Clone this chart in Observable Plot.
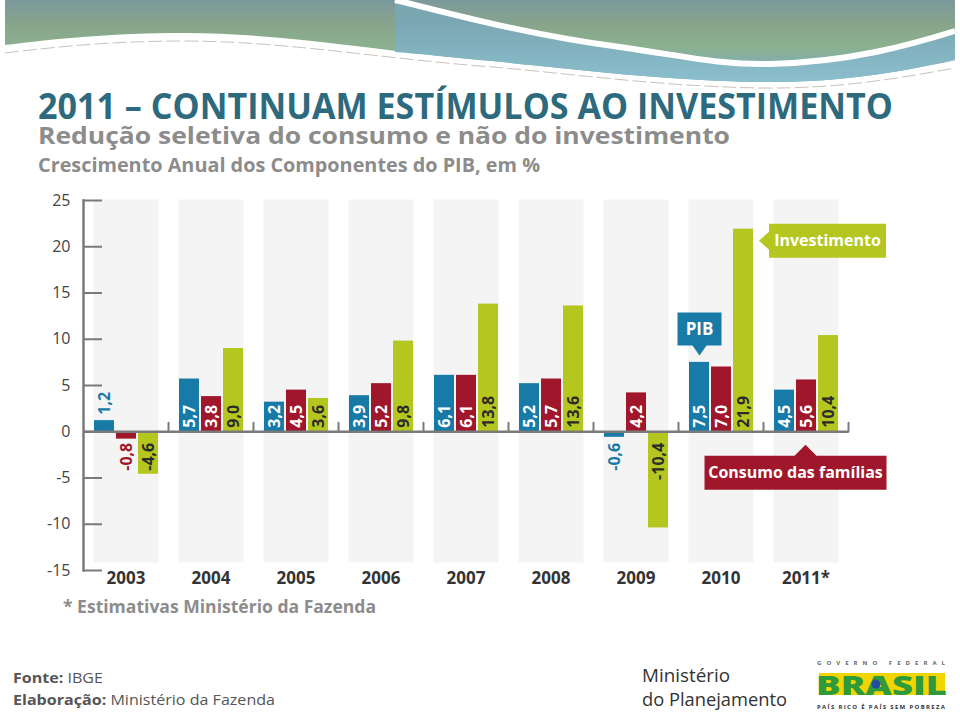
<!DOCTYPE html>
<html><head><meta charset="utf-8">
<script src="https://cdn.jsdelivr.net/npm/d3@7"></script>
<script src="https://cdn.jsdelivr.net/npm/@observablehq/plot@0.6"></script>
<style>
html,body{margin:0;padding:0;background:#fff;}
#page{position:relative;width:960px;height:713px;overflow:hidden;font-family:'Open Sans',sans-serif;}
#bg{position:absolute;left:0;top:0;}
#chart{position:absolute;left:0;top:190px;}
</style></head><body>
<div id="page"><svg id="bg" width="960" height="713" xmlns="http://www.w3.org/2000/svg"></svg><div id="chart"></div></div>
<script>
// ---- data ----
const years = ["2003","2004","2005","2006","2007","2008","2009","2010","2011*"];
const series = ["PIB","Consumo das famílias","Investimento"];
const pib = [1.2, 5.7, 3.2, 3.9, 6.1, 5.2, -0.6, 7.5, 4.5];
const consumo = [-0.8, 3.8, 4.5, 5.2, 6.1, 5.7, 4.2, 7.0, 5.6];
const investimento = [-4.6, 9.0, 3.6, 9.8, 13.8, 13.6, -10.4, 21.9, 10.4];
const yTicks = [-15, -10, -5, 0, 5, 10, 15, 20, 25];
const colors = ["#177aa7", "#a0172b", "#b5c61f"];

const title = "2011 – CONTINUAM ESTÍMULOS AO INVESTIMENTO";
const subtitle = "Redução seletiva do consumo e não do investimento";
const subtitle2 = "Crescimento Anual dos Componentes do PIB, em %";
const note = "* Estimativas Ministério da Fazenda";

const data = years.flatMap((year, i) => [
  {year, series: series[0], value: pib[i]},
  {year, series: series[1], value: consumo[i]},
  {year, series: series[2], value: investimento[i]}
]);
const callouts = [
  {year: years[7], series: series[0], value: pib[7], label: "PIB"},
  {year: years[7], series: series[2], value: investimento[7], label: "Investimento"},
  {year: years[8], series: series[1], value: 0, label: "Consumo das famílias"}
];

const fmt = v => v.toFixed(1).replace(".", ",");

// ---- background: header wave, titles, footer ----
const bg = document.getElementById("bg");
bg.innerHTML = `
<defs>
 <linearGradient id="gMain" x1="0" y1="0" x2="0" y2="85" gradientUnits="userSpaceOnUse">
  <stop offset="0" stop-color="#7b999c"/>
  <stop offset="0.3" stop-color="#88a58b"/>
  <stop offset="0.55" stop-color="#8bb18f"/>
  <stop offset="0.8" stop-color="#80adb6"/>
  <stop offset="1" stop-color="#82b5c4"/>
 </linearGradient>
 <linearGradient id="gBlue" x1="0" y1="20" x2="0" y2="85" gradientUnits="userSpaceOnUse">
  <stop offset="0" stop-color="#7aa6b2"/>
  <stop offset="1" stop-color="#8cc0cf"/>
 </linearGradient>
</defs>
<path d="M5,0 H955 V60 C900,72 840,83 760,82 C650,80 560,67 480,60 C380,51 280,33 185,33 C110,33 55,39 5,45 Z" fill="url(#gMain)"/>
<path d="M395,0 C430,8 520,34 620,47 C690,57 720,65 770,64 C850,62 910,45 955,31 V60 C900,72 840,83 760,82 C650,80 560,67 480,60 C450,57 420,54 395,52 Z" fill="url(#gBlue)"/>
<path d="M395,0 C430,8 520,34 620,47 C690,57 720,65 770,64 C850,62 910,45 955,31" fill="none" stroke="#fff" stroke-width="6"/>
<path d="M5,53 C55,47 110,41 185,41 C280,41 380,58 480,66 C560,72 650,86 760,88 C840,89 900,78 955,68" fill="none" stroke="#b9b4aa" stroke-width="1" stroke-dasharray="14 4" opacity="0.8"/>
<text x="38" y="119" font-size="36" font-weight="700" fill="#2e6a7d" textLength="855" lengthAdjust="spacingAndGlyphs">${title}</text>
<text x="38" y="144" font-size="24" font-weight="700" fill="#8c8c8c" textLength="692" lengthAdjust="spacingAndGlyphs">${subtitle}</text>
<text x="38" y="172" font-size="20" font-weight="700" fill="#8c8c8c" textLength="502" lengthAdjust="spacingAndGlyphs">${subtitle2}</text>
<text x="63" y="613" font-size="18" font-weight="700" fill="#8c8c8c" textLength="313" lengthAdjust="spacingAndGlyphs">${note}</text>
<text x="13" y="683" font-size="15" fill="#555" textLength="90" lengthAdjust="spacingAndGlyphs"><tspan font-weight="700">Fonte:</tspan> IBGE</text>
<text x="13" y="705" font-size="15" fill="#555" textLength="262" lengthAdjust="spacingAndGlyphs"><tspan font-weight="700">Elaboração:</tspan> Ministério da Fazenda</text>
<text x="642" y="682" font-size="18" fill="#333" textLength="88" lengthAdjust="spacingAndGlyphs">Ministério</text>
<text x="642" y="706" font-size="18" fill="#333" textLength="145" lengthAdjust="spacingAndGlyphs">do Planejamento</text>
<text x="817" y="665" font-size="6" font-weight="700" fill="#666" textLength="128" lengthAdjust="spacing">GOVERNO FEDERAL</text>
<rect x="819" y="673" width="126" height="22" fill="#f2d400"/>
<text x="816" y="695" font-size="27" font-weight="800" fill="#2e9a3c" textLength="131" lengthAdjust="spacingAndGlyphs">BRASIL</text>
<circle cx="876" cy="684" r="4.5" fill="#1d4f9c"/>
<text x="817" y="709" font-size="6" font-weight="700" fill="#333" textLength="128" lengthAdjust="spacing">PAÍS RICO É PAÍS SEM POBREZA</text>
`;

// ---- callout shapes (tip at origin) ----
const symLeft = {draw(c) { c.moveTo(0,0); c.lineTo(10,-9); c.lineTo(10,-17); c.lineTo(127,-17); c.lineTo(127,17); c.lineTo(10,17); c.lineTo(10,9); c.closePath(); }};
const symDown = {draw(c) { c.moveTo(0,0); c.lineTo(-7,-10); c.lineTo(-22,-10); c.lineTo(-22,-43); c.lineTo(22,-43); c.lineTo(22,-10); c.lineTo(7,-10); c.closePath(); }};
const symUp = {draw(c) { c.moveTo(0,0); c.lineTo(11,11); c.lineTo(81,11); c.lineTo(81,45); c.lineTo(-101,45); c.lineTo(-101,11); c.lineTo(-11,11); c.closePath(); }};
const tickShape = {draw(c, l) { c.moveTo(0,0); c.lineTo(0,-l); }};

const axisGray = "#7a7a7a";
const dark = "#2b2b2b";
const lab = {fx: "year", x: "series", text: d => fmt(d.value), rotate: -90, fontWeight: "bold", fontSize: 16};

const chart = Plot.plot({
  width: 960, height: 410,
  marginLeft: 81, marginRight: 111, marginTop: 10, marginBottom: 30,
  style: {background: "transparent", fontFamily: "'Open Sans', sans-serif"},
  fx: {domain: years, padding: 0, label: null},
  x: {domain: series, paddingInner: 0.1, paddingOuter: 0, insetLeft: 10, insetRight: 10, axis: null},
  y: {domain: [-15, 25], label: null},
  color: {domain: series, range: colors},
  marks: [
    Plot.frame({fill: "#f4f4f4", stroke: "none", insetLeft: 10, insetRight: 10, insetTop: -1, insetBottom: 8}),
    Plot.barY(data, {fx: "year", x: "series", y: "value", fill: "series"}),
    Plot.ruleY([0], {stroke: axisGray, strokeWidth: 2.5}),
    Plot.vector([0], {y: d => d, frameAnchor: "right", length: 9, rotate: 0, anchor: "start", shape: tickShape, stroke: axisGray, strokeWidth: 2}),
    Plot.frame({anchor: "left", facetAnchor: "left", stroke: axisGray, strokeWidth: 2.5}),
    Plot.axisY({ticks: yTicks, tickSize: -19, tickPadding: 32, tickFormat: d => String(d), fontSize: 16, stroke: axisGray, strokeWidth: 2, fill: "#444", label: null}),
    Plot.axisFx({anchor: "bottom", tickSize: 0, tickPadding: 1, fontSize: 17, fontWeight: "bold", fill: "#333", label: null}),
    // value labels
    Plot.text(data.filter(d => d.value >= 2 && d.series !== series[2]), {...lab, y: () => 0, textAnchor: "start", dy: -4, fill: "white"}),
    Plot.text(data.filter(d => d.value >= 2 && d.series === series[2]), {...lab, y: () => 0, textAnchor: "start", dy: -4, fill: dark}),
    Plot.text(data.filter(d => d.value <= -2), {...lab, y: () => 0, textAnchor: "end", dy: 11, fill: dark}),
    Plot.text(data.filter(d => d.value > 0 && d.value < 2), {...lab, y: "value", textAnchor: "start", dy: -6, fill: "series"}),
    Plot.text(data.filter(d => d.value < 0 && d.value > -2), {...lab, y: () => 0, textAnchor: "end", dy: 11, fill: "series"}),
    // callouts
    Plot.dot([callouts[0]], {fx: "year", x: "series", y: "value", symbol: symDown, fill: colors[0], stroke: "none", dy: -7}),
    Plot.text([callouts[0]], {fx: "year", x: "series", y: "value", text: "label", dy: -33, fill: "white", fontWeight: "bold", fontSize: 17}),
    Plot.dot([callouts[1]], {fx: "year", x: "series", y: "value", symbol: symLeft, fill: colors[2], stroke: "none", dx: 15.5, dy: 11.6}),
    Plot.text([callouts[1]], {fx: "year", x: "series", y: "value", text: "label", dx: 84, dy: 11.6, fill: "white", fontWeight: "bold", fontSize: 16}),
    Plot.dot([callouts[2]], {fx: "year", x: "series", y: "value", symbol: symUp, fill: colors[1], stroke: "none", dx: -1, dy: 13}),
    Plot.text([callouts[2]], {fx: "year", x: "series", y: "value", text: "label", dx: -11, dy: 41, fill: "white", fontWeight: "bold", fontSize: 16})
  ]
});
document.getElementById("chart").appendChild(chart);
</script>
</body></html>
